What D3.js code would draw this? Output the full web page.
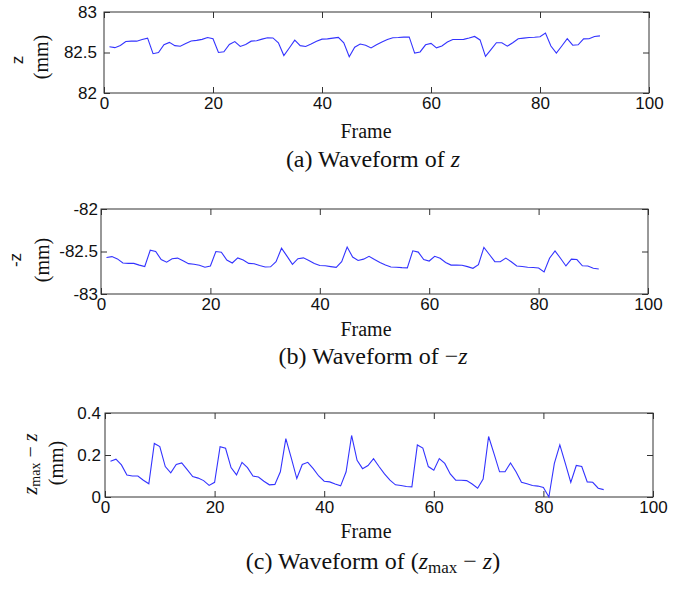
<!DOCTYPE html>
<html>
<head>
<meta charset="utf-8">
<script src="https://cdn.jsdelivr.net/npm/d3@7"></script>
<style>
body { margin: 0; background: #fff; }
.tick text { font-family: "Liberation Sans", Arial, sans-serif; font-size: 17px; fill: #111; }
.tick line { stroke: #333; }
.serif { font-family: "Liberation Serif", "Times New Roman", serif; fill: #111; }
.sans { font-family: "Liberation Sans", Arial, sans-serif; fill: #111; }
</style>
</head>
<body>
<svg width="678" height="589"></svg>
<script>
// frame numbers of the recorded sequence
var frames = d3.range(1, 92);

// z_max - z (mm); z_max is reached at frame 81
var zMax = 82.74;
var zmaxMinusZ = [
  0.170, 0.180, 0.153, 0.105, 0.100, 0.100, 0.080, 0.063, 0.255, 0.240,
  0.145, 0.115, 0.155, 0.162, 0.130, 0.097, 0.090, 0.078, 0.055, 0.070,
  0.240, 0.232, 0.140, 0.105, 0.165, 0.140, 0.100, 0.095, 0.075, 0.058,
  0.060, 0.120, 0.278, 0.185, 0.088, 0.155, 0.165, 0.135, 0.100, 0.075,
  0.072, 0.062, 0.053, 0.120, 0.293, 0.175, 0.135, 0.150, 0.183, 0.145,
  0.110, 0.080, 0.058, 0.055, 0.050, 0.048, 0.248, 0.233, 0.145, 0.128,
  0.183, 0.160, 0.110, 0.080, 0.080, 0.078, 0.062, 0.042, 0.085, 0.288,
  0.205, 0.120, 0.120, 0.162, 0.120, 0.070, 0.063, 0.055, 0.052, 0.045,
  0.000, 0.160, 0.248, 0.160, 0.070, 0.150, 0.145, 0.072, 0.070, 0.042,
  0.035
];

var xTicks = [0, 20, 40, 60, 80, 100];
var zTicks = [82, 82.5, 83];
var negZTicks = [-83, -82.5, -82];
var diffTicks = [0, 0.2, 0.4];

var zSeries = zmaxMinusZ.map(function(d) { return zMax - d; });
var negZSeries = zmaxMinusZ.map(function(d) { return d - zMax; });

var svg = d3.select("svg");

var panels = [
  {left: 104, top: 12, right: 649, bottom: 93, domain: [82, 83], ticks: zTicks, values: zSeries, ypad: 7,
   frameY: 138, captionY: 167},
  {left: 101, top: 209, right: 648, bottom: 294, domain: [-83, -82], ticks: negZTicks, values: negZSeries, ypad: 3,
   frameY: 336, captionY: 364},
  {left: 105, top: 413, right: 653, bottom: 497, domain: [0, 0.4], ticks: diffTicks, values: zmaxMinusZ, ypad: 4,
   frameY: 538, captionY: 569}
];

function drawPanel(p) {
  var x = d3.scaleLinear().domain([0, 100]).range([p.left, p.right]);
  var y = d3.scaleLinear().domain(p.domain).range([p.bottom, p.top]);
  var g = svg.append("g");

  g.append("g")
    .attr("transform", "translate(0," + p.bottom + ")")
    .call(d3.axisBottom(x).tickValues(xTicks).tickSizeInner(-6).tickSizeOuter(0).tickPadding(4))
    .call(function(a) { a.select(".domain").remove(); });
  g.append("g")
    .attr("transform", "translate(0," + p.top + ")")
    .call(d3.axisTop(x).tickValues(xTicks).tickSizeInner(-6).tickSizeOuter(0).tickFormat(""))
    .call(function(a) { a.select(".domain").remove(); });
  g.append("g")
    .attr("transform", "translate(" + p.left + ",0)")
    .call(d3.axisLeft(y).tickValues(p.ticks).tickSizeInner(-6).tickSizeOuter(0).tickPadding(p.ypad)
      .tickFormat(function(d) { return String(d); }))
    .call(function(a) { a.select(".domain").remove(); });
  g.append("g")
    .attr("transform", "translate(" + p.right + ",0)")
    .call(d3.axisRight(y).tickValues(p.ticks).tickSizeInner(-6).tickSizeOuter(0).tickFormat(""))
    .call(function(a) { a.select(".domain").remove(); });

  g.selectAll(".tick text").attr("fill", "#111");

  g.append("rect")
    .attr("x", p.left).attr("y", p.top)
    .attr("width", p.right - p.left).attr("height", p.bottom - p.top)
    .attr("fill", "none").attr("stroke", "#333").attr("stroke-width", 1);

  var line = d3.line()
    .x(function(d, i) { return x(frames[i]); })
    .y(function(d) { return y(d); });
  g.append("path")
    .datum(p.values)
    .attr("fill", "none")
    .attr("stroke", "#3333ff")
    .attr("stroke-width", 1.1)
    .attr("d", line);

  g.append("text")
    .attr("class", "serif")
    .attr("x", 366).attr("y", p.frameY)
    .attr("text-anchor", "middle")
    .style("font-size", "20px")
    .text("Frame");
}

panels.forEach(drawPanel);

// y axis labels (rotated)
function vLabel(x, y, cls, size) {
  return svg.append("text")
    .attr("class", cls)
    .attr("text-anchor", "middle")
    .attr("transform", "translate(" + x + "," + y + ") rotate(-90)")
    .style("font-size", size);
}
vLabel(23, 60, "sans", "17px").text("z");
vLabel(48, 57, "serif", "20px").text("(mm)");
vLabel(21, 260, "sans", "17px").text("-z");
vLabel(49, 260, "serif", "20px").text("(mm)");
var lc = vLabel(37, 464, "serif", "20px");
lc.append("tspan").style("font-style", "italic").text("z");
lc.append("tspan").attr("dy", 3).style("font-size", "14px").text("max");
lc.append("tspan").attr("dy", -3).text(" \u2212 ");
lc.append("tspan").style("font-style", "italic").text("z");
vLabel(63, 463, "serif", "20px").text("(mm)");

// captions
function caption(y) {
  return svg.append("text")
    .attr("class", "serif")
    .attr("x", 373).attr("y", y)
    .attr("text-anchor", "middle")
    .style("font-size", "24px");
}
var ca = caption(panels[0].captionY);
ca.append("tspan").text("(a) Waveform of ");
ca.append("tspan").style("font-style", "italic").text("z");

var cb = caption(panels[1].captionY);
cb.append("tspan").text("(b) Waveform of \u2212");
cb.append("tspan").style("font-style", "italic").text("z");

var cc = caption(panels[2].captionY);
cc.append("tspan").text("(c) Waveform of (");
cc.append("tspan").style("font-style", "italic").text("z");
cc.append("tspan").attr("dy", 4).style("font-size", "17px").text("max");
cc.append("tspan").attr("dy", -4).text(" \u2212 ");
cc.append("tspan").style("font-style", "italic").text("z");
cc.append("tspan").text(")");
</script>
</body>
</html>
